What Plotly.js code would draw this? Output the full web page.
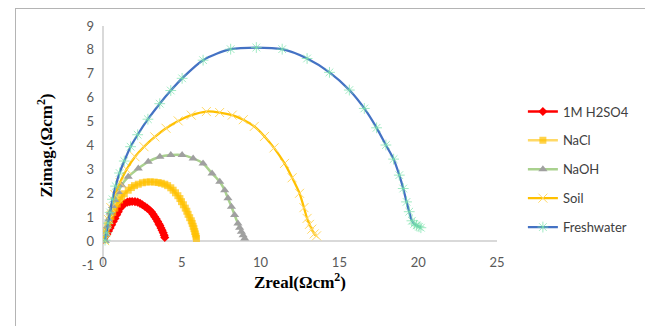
<!DOCTYPE html>
<html>
<head>
<meta charset="utf-8">
<script src="https://cdn.plot.ly/plotly-3.0.1.min.js"></script>
<style>
html,body{margin:0;padding:0;background:#fff;}
#wrap{position:relative;width:645px;height:326px;}
#chart{position:absolute;left:0;top:0;width:645px;height:326px;}
#frame{position:absolute;left:15px;top:8px;width:640px;height:330px;border-left:1px solid #b4b4b4;border-top:1px solid #b4b4b4;pointer-events:none;}
</style>
</head>
<body>
<div id="wrap"><div id="chart"></div><div id="frame"></div></div>
<script>
// 1M H2SO4
const h2so4X = [-0.15,-0.05,0.05,0.15,0.25,0.35,0.45,0.55,0.65,0.76,0.87,0.97,1.1,1.25,1.39,1.55,1.7,1.85,2.03,2.2,2.35,2.5,2.66,2.8,2.95,3.08,3.18,3.28,3.38,3.47,3.55,3.61,3.68,3.75,3.82,3.88,3.92];
const h2so4Y = [0.05,0.05,0.1,0.2,0.3,0.42,0.55,0.68,0.82,0.95,1.1,1.23,1.38,1.5,1.58,1.63,1.65,1.66,1.65,1.63,1.58,1.52,1.45,1.38,1.3,1.22,1.12,1.02,0.92,0.82,0.72,0.65,0.55,0.45,0.35,0.25,0.15];
// NaCl
const naclX = [0.0,0.1,0.2,0.3,0.4,0.5,0.62,0.75,0.9,1.05,1.18,1.35,1.6,1.8,2.0,2.24,2.5,2.75,3.0,3.25,3.5,3.7,3.92,4.1,4.3,4.45,4.6,4.75,4.88,4.98,5.1,5.22,5.32,5.4,5.5,5.6,5.66,5.72,5.77,5.82,5.86,5.9,5.93];
const naclY = [0.05,0.25,0.45,0.65,0.85,1.02,1.2,1.38,1.55,1.72,1.85,1.98,2.13,2.24,2.32,2.38,2.44,2.47,2.48,2.47,2.45,2.42,2.38,2.32,2.23,2.13,2.02,1.9,1.78,1.65,1.52,1.38,1.25,1.12,0.98,0.85,0.74,0.62,0.52,0.4,0.3,0.2,0.11];
// NaOH
const naohX = [0.15,0.2,0.27,0.35,0.45,0.6,0.76,0.97,1.18,1.6,2.24,2.87,3.61,4.3,5.02,5.72,6.35,6.92,7.41,7.72,7.93,8.15,8.35,8.56,8.67,8.78,8.89,8.99];
const naohY = [0.0,0.3,0.6,0.9,1.2,1.47,1.72,2.05,2.34,2.69,3.04,3.32,3.53,3.6,3.6,3.46,3.25,2.83,2.48,2.13,1.79,1.44,1.09,0.74,0.56,0.39,0.24,0.11];
// Soil
const soilX = [0.1,0.2,0.35,0.5,0.75,1.08,1.5,2.03,2.6,3.29,4.0,4.77,5.6,6.56,7.4,8.2,8.9,9.6,10.25,10.85,11.52,12.0,12.47,12.75,12.95,13.1,13.25,13.4,13.55];
const soilY = [0.02,0.4,0.9,1.4,1.95,2.45,3.0,3.53,3.95,4.36,4.72,5.03,5.27,5.42,5.38,5.27,5.08,4.8,4.38,3.9,3.25,2.65,2.0,1.4,0.95,0.7,0.5,0.3,0.22];
// Freshwater
const freshX = [0.13,0.22,0.32,0.45,0.6,0.8,1.05,1.35,1.75,2.2,2.85,3.6,4.3,5.02,6.35,8.1,9.73,11.37,12.95,14.37,15.63,16.58,17.36,17.95,18.44,18.8,19.05,19.26,19.43,19.6,19.75,19.9,20.05,20.17];
const freshY = [0.04,0.35,0.75,1.2,1.75,2.3,2.85,3.35,3.95,4.45,5.1,5.75,6.3,6.81,7.57,8.03,8.1,8.03,7.64,7.06,6.32,5.55,4.74,4.02,3.43,2.76,2.2,1.64,1.23,0.85,0.72,0.66,0.6,0.56];

const seriesNames = ['1M H2SO4','NaCl','NaOH','Soil','Freshwater'];
const xTicks = [0,5,10,15,20,25];
const yTicks = [-1,0,1,2,3,4,5,6,7,8,9];

const tickFont = {family:'Lato, "Open Sans", sans-serif', size:13, color:'#595959'};
const titleFont = {family:'"Liberation Serif", "Times New Roman", serif', size:17, color:'#000'};

const traces = [
  {x:h2so4X, y:h2so4Y, name:seriesNames[0], mode:'lines+markers', legendgroup:'a',
   line:{color:'#FF0000', width:2.5, shape:'spline', smoothing:0.8},
   marker:{symbol:'diamond', size:7, color:'#FF0000'}},
  {x:naclX, y:naclY, name:seriesNames[1], mode:'lines+markers', legendgroup:'b',
   line:{color:'#FFD966', width:2.5, shape:'spline', smoothing:0.8},
   marker:{symbol:'square', size:7, color:'rgba(255,192,0,0.7)'}},
  {x:naohX, y:naohY, name:seriesNames[2], mode:'lines+markers', legendgroup:'c',
   line:{color:'#A9D18E', width:2.5, shape:'spline', smoothing:0.8},
   marker:{symbol:'triangle-up', size:8, color:'#A0A0A0'}},
  {x:soilX, y:soilY, name:seriesNames[3], mode:'lines+markers', legendgroup:'d',
   line:{color:'#FFC000', width:2.25, shape:'spline', smoothing:0.8},
   marker:{symbol:'x-thin', size:9, line:{color:'#FFD966', width:1}, color:'#FFD966'}},
  {x:freshX, y:freshY, name:seriesNames[4], mode:'lines+markers', legendgroup:'e',
   line:{color:'#4472C4', width:2.25, shape:'spline', smoothing:0.8},
   marker:{symbol:'asterisk', size:9, line:{color:'rgba(120,225,170,0.7)', width:1}, color:'rgba(120,225,170,0.7)'}}
];

const layout = {
  width:645, height:326,
  margin:{l:103, r:147, t:26, b:61, pad:0},
  paper_bgcolor:'#ffffff', plot_bgcolor:'#ffffff',
  showlegend:true,
  legend:{x:1.063, y:0.705, xanchor:'left', yanchor:'top', traceorder:'grouped', tracegroupgap:9,
          font:{family:'Lato, "Open Sans", sans-serif', size:13, color:'#404040'},
          bgcolor:'rgba(0,0,0,0)', itemwidth:30},
  xaxis:{range:[0,25], tickvals:xTicks, ticktext:xTicks.map(String), showgrid:false, showline:false,
         zeroline:true, zerolinecolor:'#d9d9d9', zerolinewidth:1.5, ticks:'', tickfont:tickFont,
         ticklabelstandoff:-12, fixedrange:true,
         title:{text:'<b>Zreal(Ωcm<sup>2</sup>)</b>', font:titleFont, standoff:0}},
  yaxis:{range:[-1,9], tickvals:yTicks, ticktext:yTicks.map(String), showgrid:false, showline:false,
         zeroline:true, zerolinecolor:'#d9d9d9', zerolinewidth:1.5, ticks:'', tickfont:tickFont,
         ticklabelstandoff:8, fixedrange:true,
         title:{text:'<b>Zimag.(Ωcm<sup>2</sup>)</b>', font:titleFont, standoff:24}}
};

Plotly.newPlot('chart', traces, layout, {staticPlot:true, displayModeBar:false});
</script>
</body>
</html>
